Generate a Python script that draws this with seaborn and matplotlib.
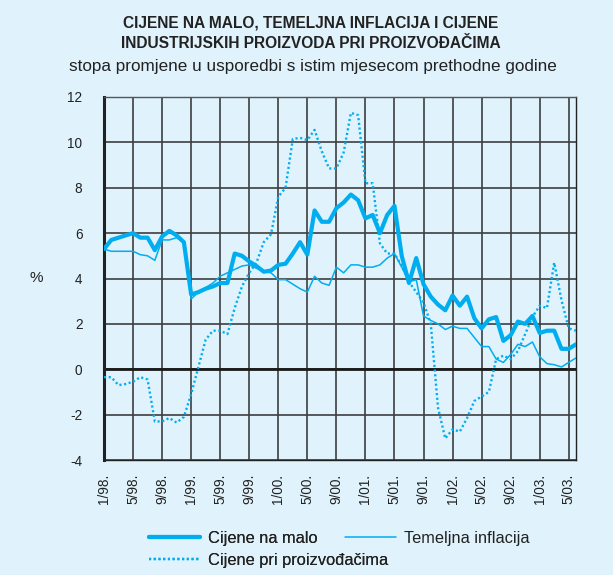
import matplotlib
matplotlib.use("Agg")
import matplotlib.pyplot as plt
import seaborn as sns
import numpy as np
import pandas as pd

# ---- data (monthly, 1/98 .. 6/03) ----
retail = [5.3, 5.7, 5.8, 5.9, 6.0, 5.8, 5.8, 5.25, 5.85, 6.1, 5.9, 5.6,
          3.3, 3.4, 3.55, 3.65, 3.8, 3.8, 5.1, 5.0, 4.75, 4.55, 4.3, 4.35,
          4.6, 4.65, 5.1, 5.6, 5.05, 7.0, 6.5, 6.5, 7.1, 7.35, 7.7, 7.45,
          6.65, 6.8, 6.0, 6.8, 7.2, 5.0, 3.8, 4.9, 3.75, 3.2, 2.85, 2.6,
          3.25, 2.8, 3.2, 2.25, 1.8, 2.2, 2.3, 1.25, 1.5, 2.1, 2.0, 2.35,
          1.6, 1.7, 1.7, 0.9, 0.9, 1.1]
core = [5.3, 5.2, 5.2, 5.2, 5.2, 5.05, 5.0, 4.8, 5.7, 5.7, 5.8, 5.6,
        3.1, 3.4, 3.6, 3.8, 4.1, 4.25, 4.4, 4.55, 4.6, 4.45, 4.3, 4.25,
        3.95, 3.95, 3.75, 3.55, 3.4, 4.1, 3.8, 3.7, 4.5, 4.25, 4.6, 4.6,
        4.5, 4.5, 4.6, 4.9, 5.1, 4.5, 3.85, 3.95, 2.35, 2.15, 2.0, 1.75,
        1.9, 1.8, 1.8, 1.4, 1.0, 1.0, 0.45, 0.3, 0.65, 1.1, 1.0, 1.2,
        0.55, 0.25, 0.2, 0.1, 0.3, 0.5]
producer = [-0.35, -0.35, -0.7, -0.65, -0.55, -0.35, -0.45, -2.3, -2.3, -2.15, -2.35, -2.1,
            -1.1, 0.1, 1.3, 1.7, 1.7, 1.55, 2.7, 3.65, 4.25, 4.7, 5.6, 5.95,
            7.6, 8.0, 10.15, 10.2, 10.1, 10.55, 9.6, 8.85, 8.85, 9.55, 11.3, 11.2,
            8.2, 8.2, 5.55, 5.1, 5.1, 4.55, 3.85, 3.4, 2.95, 2.0, -1.7, -3.05,
            -2.65, -2.75, -2.15, -1.4, -1.2, -1.0, 0.45, 0.6, 0.45, 0.8, 1.55, 2.3,
            2.8, 2.7, 4.7, 3.05, 1.8, 1.7]
tick_labels = ["1/98.", "5/98.", "9/98.", "1/99.", "5/99.", "9/99.", "1/00.", "5/00.",
               "9/00.", "1/01.", "5/01.", "9/01.", "1/02.", "5/02.", "9/02.", "1/03.", "5/03."]
y_ticks = [-4, -2, 0, 2, 4, 6, 8, 10, 12]
series_names = ["Cijene na malo", "Temeljna inflacija", "Cijene pri proizvođačima"]

months = np.arange(len(retail))
df = pd.DataFrame({"m": months, "retail": retail, "core": core, "producer": producer})

BG = "#E0F2FC"
CYAN = "#00AEEF"
GRID = "#3f3f3f"
TXT = "#222222"

sns.set_theme(style="white")
plt.rcParams["font.family"] = ["Liberation Sans", "DejaVu Sans"]

fig = plt.figure(figsize=(6.13, 5.75), dpi=100, facecolor=BG)
ax = fig.add_axes([104 / 613, 1 - 460 / 575, (576 - 104) / 613, (460 - 97) / 575])
ax.set_facecolor(BG)

# axes, ticks, grid
ax.set_xlim(0, len(retail) - 1)
ax.set_ylim(-4, 12)
ax.set_xticks(months[::4])
ax.set_xticklabels(tick_labels, rotation=90, fontsize=9.8, color=TXT)
ax.set_yticks(y_ticks)
ax.set_yticklabels([str(v) for v in y_ticks], fontsize=9.8, color=TXT)
ax.grid(True, color=GRID, linewidth=1.2, zorder=0)
ax.set_axisbelow(True)
ax.axhline(0, color="#1a1a1a", linewidth=2.0, zorder=1)
ax.tick_params(axis="both", length=5, width=1.2, color="#555555", direction="out")
ax.tick_params(axis="x", pad=5)
ax.tick_params(axis="y", pad=10.5)
for side, sp in ax.spines.items():
    sp.set_visible(True)
    sp.set_color(TXT)
    sp.set_linewidth(1.0)
ax.spines["left"].set_linewidth(2.2)
ax.spines["top"].set_color("#555555")

# lines
sns.lineplot(data=df, x="m", y="producer", ax=ax, color=CYAN, linewidth=1.7,
             linestyle=(0, (0.9, 1.1)), label=series_names[2], legend=False, zorder=3)
sns.lineplot(data=df, x="m", y="core", ax=ax, color=CYAN, linewidth=1.1,
             label=series_names[1], legend=False, zorder=4)
sns.lineplot(data=df, x="m", y="retail", ax=ax, color=CYAN, linewidth=3.0,
             label=series_names[0], legend=False, zorder=5)
ax.set_xlabel("")
ax.set_ylabel("")

lines = {l.get_label(): l for l in ax.get_lines()}

fig.text(36 / 613, 1 - 278 / 575, "%", fontsize=11, ha="center", va="center", color=TXT)

# titles
fig.text(311 / 613, 1 - 23 / 575, "CIJENE NA MALO, TEMELJNA INFLACIJA I CIJENE",
         ha="center", va="center", fontsize=11.2, fontweight="bold", color=TXT)
fig.text(311 / 613, 1 - 44 / 575, "INDUSTRIJSKIH PROIZVODA PRI PROIZVOĐAČIMA",
         ha="center", va="center", fontsize=11.2, fontweight="bold", color=TXT)
fig.text(313 / 613, 1 - 66 / 575, "stopa promjene u usporedbi s istim mjesecom prethodne godine",
         ha="center", va="center", fontsize=12.3, color=TXT)

# legends
leg1 = fig.legend(handles=[lines[series_names[0]], lines[series_names[2]]],
                  labels=[series_names[0], series_names[2]],
                  loc="center left", bbox_to_anchor=(149 / 613, 1 - 549.5 / 575),
                  frameon=False, fontsize=11.8, handlelength=3.1, handletextpad=0.5,
                  borderpad=0, borderaxespad=0, labelspacing=0.42, labelcolor=TXT)
leg2 = fig.legend(handles=[lines[series_names[1]]], labels=[series_names[1]],
                  loc="center left", bbox_to_anchor=(345 / 613, 1 - 538.5 / 575),
                  frameon=False, fontsize=11.8, handlelength=3.1, handletextpad=0.5,
                  borderpad=0, borderaxespad=0, labelcolor=TXT)
fig.add_artist(leg1)

fig.savefig("out.png", dpi=100, facecolor=BG)
